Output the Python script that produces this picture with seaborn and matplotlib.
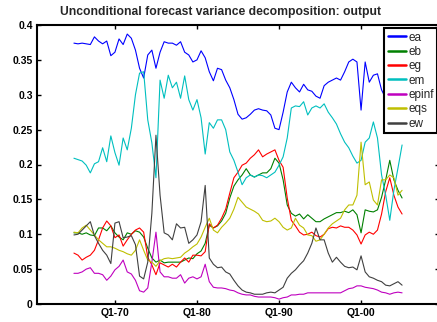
import numpy as np
import pandas as pd
import seaborn as sns
import matplotlib.pyplot as plt
from matplotlib.lines import Line2D

# half-year steps, 1965Q1 .. 2005Q1
dates = np.arange(81) * 0.5 + 1965

shocks = ['ea', 'eb', 'eg', 'em', 'epinf', 'eqs', 'ew']

ea = [0.374, 0.373, 0.374, 0.373, 0.372, 0.383, 0.377, 0.373, 0.377, 0.356,
      0.361, 0.380, 0.372, 0.387, 0.381, 0.364, 0.338, 0.324, 0.357, 0.364,
      0.338, 0.361, 0.376, 0.374, 0.374, 0.371, 0.376, 0.361, 0.357, 0.347,
      0.350, 0.363, 0.353, 0.333, 0.320, 0.338, 0.336, 0.321, 0.310, 0.293,
      0.272, 0.265, 0.267, 0.272, 0.278, 0.280, 0.278, 0.277, 0.271, 0.252,
      0.250, 0.275, 0.304, 0.318, 0.310, 0.304, 0.315, 0.307, 0.305, 0.298,
      0.295, 0.313, 0.318, 0.321, 0.324, 0.321, 0.333, 0.347, 0.351, 0.347,
      0.278, 0.347, 0.318, 0.328, 0.330, 0.307, 0.295, 0.298, 0.301, 0.293,
      0.290]
eb = [0.102, 0.102, 0.100, 0.102, 0.099, 0.098, 0.109, 0.109, 0.105, 0.112,
      0.102, 0.096, 0.092, 0.102, 0.100, 0.105, 0.103, 0.096, 0.080, 0.066,
      0.060, 0.063, 0.059, 0.060, 0.060, 0.060, 0.060, 0.063, 0.066, 0.065,
      0.072, 0.076, 0.087, 0.113, 0.109, 0.112, 0.119, 0.130, 0.152, 0.169,
      0.178, 0.185, 0.194, 0.185, 0.182, 0.185, 0.188, 0.188, 0.194, 0.209,
      0.202, 0.178, 0.142, 0.130, 0.126, 0.129, 0.122, 0.128, 0.123, 0.118,
      0.118, 0.122, 0.125, 0.128, 0.131, 0.131, 0.133, 0.131, 0.135, 0.128,
      0.102, 0.135, 0.133, 0.132, 0.135, 0.153, 0.178, 0.206, 0.178, 0.163,
      0.152]
eg = [0.073, 0.070, 0.063, 0.067, 0.070, 0.077, 0.092, 0.109, 0.119, 0.112,
      0.095, 0.099, 0.083, 0.092, 0.100, 0.106, 0.109, 0.103, 0.067, 0.056,
      0.042, 0.059, 0.056, 0.053, 0.057, 0.053, 0.060, 0.066, 0.060, 0.070,
      0.070, 0.069, 0.075, 0.115, 0.109, 0.113, 0.123, 0.136, 0.159, 0.181,
      0.189, 0.199, 0.202, 0.209, 0.214, 0.221, 0.211, 0.215, 0.218, 0.221,
      0.206, 0.196, 0.152, 0.120, 0.112, 0.103, 0.099, 0.100, 0.103, 0.098,
      0.096, 0.100, 0.108, 0.110, 0.109, 0.112, 0.110, 0.110, 0.106, 0.099,
      0.086, 0.099, 0.103, 0.100, 0.106, 0.129, 0.161, 0.181, 0.156, 0.139,
      0.129]
em = [0.209, 0.207, 0.205, 0.199, 0.188, 0.201, 0.204, 0.224, 0.204, 0.241,
      0.217, 0.199, 0.238, 0.221, 0.252, 0.300, 0.331, 0.333, 0.264, 0.231,
      0.181, 0.321, 0.295, 0.328, 0.310, 0.318, 0.295, 0.327, 0.293, 0.278,
      0.293, 0.267, 0.215, 0.260, 0.252, 0.264, 0.264, 0.250, 0.218, 0.206,
      0.189, 0.171, 0.181, 0.185, 0.182, 0.185, 0.184, 0.181, 0.185, 0.189,
      0.199, 0.211, 0.238, 0.281, 0.284, 0.283, 0.290, 0.271, 0.281, 0.284,
      0.281, 0.287, 0.275, 0.267, 0.258, 0.244, 0.232, 0.224, 0.212, 0.202,
      0.206, 0.232, 0.238, 0.261, 0.238, 0.185, 0.156, 0.120, 0.163, 0.195,
      0.228]
epinf = [0.044, 0.044, 0.046, 0.050, 0.052, 0.044, 0.044, 0.042, 0.034, 0.040,
         0.049, 0.054, 0.063, 0.046, 0.043, 0.034, 0.019, 0.017, 0.023, 0.060,
         0.103, 0.046, 0.039, 0.039, 0.037, 0.037, 0.042, 0.030, 0.037, 0.039,
         0.036, 0.039, 0.057, 0.032, 0.024, 0.023, 0.023, 0.022, 0.020, 0.019,
         0.016, 0.014, 0.013, 0.013, 0.011, 0.010, 0.010, 0.010, 0.010, 0.009,
         0.007, 0.009, 0.010, 0.013, 0.013, 0.014, 0.014, 0.016, 0.016, 0.016,
         0.016, 0.016, 0.016, 0.016, 0.016, 0.016, 0.019, 0.022, 0.023, 0.026,
         0.026, 0.024, 0.023, 0.022, 0.020, 0.017, 0.016, 0.014, 0.016, 0.017,
         0.016]
eqs = [0.103, 0.102, 0.109, 0.113, 0.106, 0.099, 0.092, 0.087, 0.082, 0.082,
       0.080, 0.077, 0.075, 0.072, 0.070, 0.077, 0.092, 0.077, 0.063, 0.060,
       0.054, 0.062, 0.065, 0.066, 0.065, 0.066, 0.067, 0.073, 0.077, 0.082,
       0.086, 0.096, 0.110, 0.123, 0.106, 0.102, 0.110, 0.116, 0.123, 0.136,
       0.153, 0.146, 0.139, 0.136, 0.133, 0.129, 0.120, 0.118, 0.119, 0.123,
       0.118, 0.110, 0.106, 0.109, 0.123, 0.113, 0.109, 0.099, 0.098, 0.090,
       0.092, 0.100, 0.109, 0.115, 0.119, 0.123, 0.135, 0.142, 0.142, 0.156,
       0.232, 0.171, 0.175, 0.149, 0.142, 0.178, 0.178, 0.185, 0.181, 0.156,
       0.163]
ew = [0.099, 0.100, 0.106, 0.112, 0.118, 0.098, 0.087, 0.077, 0.070, 0.058,
      0.116, 0.118, 0.095, 0.096, 0.098, 0.085, 0.040, 0.036, 0.060, 0.130,
      0.242, 0.156, 0.102, 0.099, 0.092, 0.115, 0.109, 0.110, 0.087, 0.092,
      0.099, 0.118, 0.170, 0.066, 0.057, 0.052, 0.053, 0.046, 0.043, 0.034,
      0.026, 0.020, 0.017, 0.016, 0.014, 0.014, 0.014, 0.016, 0.017, 0.016,
      0.020, 0.024, 0.037, 0.044, 0.049, 0.056, 0.062, 0.073, 0.087, 0.109,
      0.092, 0.092, 0.073, 0.060, 0.067, 0.060, 0.054, 0.052, 0.053, 0.049,
      0.069, 0.046, 0.039, 0.037, 0.034, 0.032, 0.027, 0.026, 0.029, 0.032,
      0.027]

xtick_years = [1970, 1980, 1990, 2000]
xtick_labels = ['Q1-70', 'Q1-80', 'Q1-90', 'Q1-00']
ytick_vals = [0, 0.05, 0.1, 0.15, 0.2, 0.25, 0.3, 0.35, 0.4]
ytick_labels = ['0', '0.05', '0.1', '0.15', '0.2', '0.25', '0.3', '0.35', '0.4']

colors = ['#0000ff', '#008000', '#ff0000', '#00bfbf', '#bf00bf', '#bfbf00', '#404040']

data = pd.DataFrame({
    'date': np.tile(dates, len(shocks)),
    'share': np.concatenate([ea, eb, eg, em, epinf, eqs, ew]),
    'shock': np.repeat(shocks, len(dates)),
})

sns.set_style('ticks')
plt.rcParams['font.family'] = ['Liberation Sans', 'DejaVu Sans']

fig = plt.figure(figsize=(4.37, 3.22), dpi=100)
ax = fig.add_axes([37 / 437, 18 / 322, 402 / 437, 279 / 322])

sns.lineplot(data=data, x='date', y='share', hue='shock', hue_order=shocks,
             palette=dict(zip(shocks, colors)), linewidth=0.8,
             errorbar=None, legend=False, ax=ax)

ax.set_xlim(1960.5, 2009.5)
ax.set_ylim(0, 0.4)
ax.set_xticks(xtick_years)
ax.set_xticklabels(xtick_labels)
ax.set_yticks(ytick_vals)
ax.set_yticklabels(ytick_labels)
ax.set_xlabel('')
ax.set_ylabel('')
ax.tick_params(direction='in', top=True, right=True, length=3, width=1,
               labelsize=7.5, pad=3, colors='black')
for lbl in ax.get_xticklabels() + ax.get_yticklabels():
    lbl.set_fontweight('bold')
for s in ax.spines.values():
    s.set_linewidth(1.5)
    s.set_color('black')

fig.text(220 / 437, 1 - 12 / 322,
         'Unconditional forecast variance decomposition: output',
         ha='center', va='center', fontsize=8.7, fontweight='bold')

handles = [Line2D([], [], color=c, lw=1.8) for c in colors]
leg = fig.legend(handles, shocks, loc='upper left',
                 bbox_to_anchor=(384 / 437, 1 - 28 / 322), fontsize=8.5,
                 frameon=True, fancybox=False, framealpha=1, edgecolor='black',
                 borderpad=0.3, labelspacing=0.2, handlelength=1.6,
                 handletextpad=0.15, borderaxespad=0)
leg.get_frame().set_linewidth(1.5)

fig.savefig('out.png', dpi=100)
